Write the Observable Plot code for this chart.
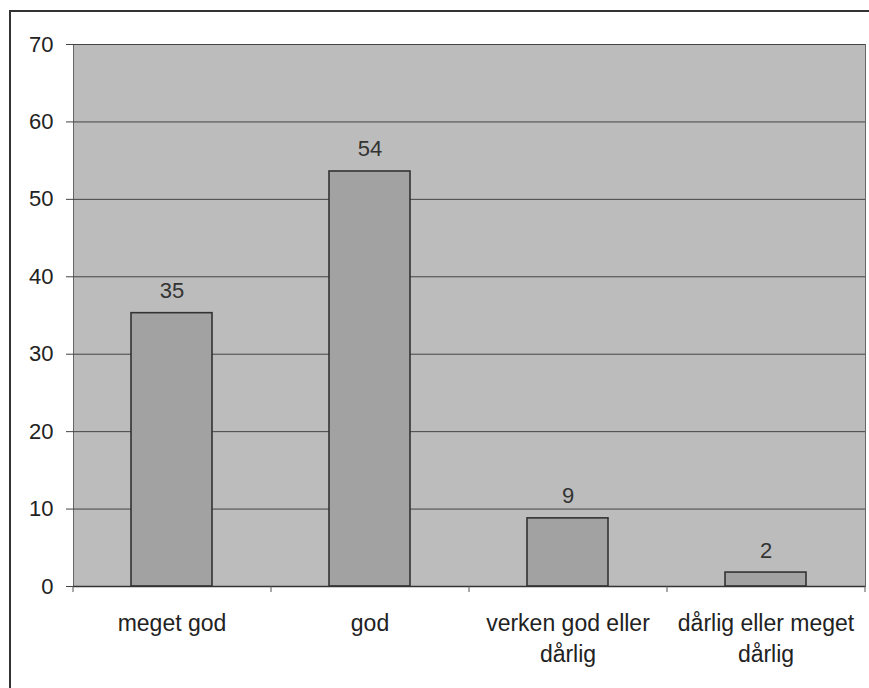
<!DOCTYPE html>
<html>
<head>
<meta charset="utf-8">
<script src="https://cdn.jsdelivr.net/npm/d3@7"></script>
<script src="https://cdn.jsdelivr.net/npm/@observablehq/plot@0.6"></script>
<style>
  html, body { margin: 0; padding: 0; background: #fff; }
  #wrap { position: relative; width: 869px; height: 688px; overflow: hidden; }
  #border { position: absolute; left: 9px; top: 10px; right: -5px; bottom: -5px;
            border-left: 2px solid #333; border-top: 2px solid #333; pointer-events: none; }
  svg { font-family: "Liberation Sans", Arial, sans-serif; }
</style>
</head>
<body>
<div id="wrap"><div id="border"></div></div>
<script>
const categories = ["meget god", "god", "verken god eller dårlig", "dårlig eller meget dårlig"];
const tickLabels = ["meget god", "god", "verken god eller\ndårlig", "dårlig eller meget\ndårlig"];
const values = [35.3, 53.6, 8.8, 1.8];
const yTicks = [0, 10, 20, 30, 40, 50, 60, 70];

const data = categories.map((c, i) => ({cat: c, label: tickLabels[i], value: values[i]}));
const lastCat = [categories[categories.length - 1]];

const chart = Plot.plot({
  width: 869,
  height: 688,
  marginLeft: 73,
  marginRight: 4,
  marginTop: 44,
  marginBottom: 102,
  style: {fontFamily: "'Liberation Sans', Arial, sans-serif", background: "transparent", color: "#222"},
  x: {domain: categories, paddingInner: 0.59, paddingOuter: 0.295, align: 0.5, label: null},
  y: {domain: [0, 70], ticks: yTicks, label: null},
  marks: [
    Plot.frame({fill: "#bcbcbc", stroke: "#666", strokeWidth: 1}),
    Plot.gridY(yTicks, {stroke: "#444", strokeOpacity: 1, strokeWidth: 1}),
    Plot.barY(data, {x: "cat", y: "value", fill: "#a2a2a2", stroke: "#333", strokeWidth: 1.6}),
    Plot.text(data, {x: "cat", y: "value", text: d => d3.format(".0f")(d.value),
      lineAnchor: "bottom", dy: -15, fontSize: 22, fill: "#333"}),
    Plot.axisY({ticks: yTicks, tickSize: 7, tickPadding: 13, fontSize: 22, label: null, stroke: "#444"}),
    Plot.ruleY([0], {stroke: "#333", strokeWidth: 1.5}),
    Plot.axisX({ticks: categories, tickSize: 6, text: null, dx: -99, stroke: "#555", label: null}),
    Plot.axisX({ticks: lastCat, tickSize: 6, text: null, dx: 99, stroke: "#555", label: null}),
    Plot.text(data, {x: "cat", y: 0, text: "label", lineAnchor: "top", dy: 22,
      lineHeight: 1.35, fontSize: 23, fill: "#222"})
  ]
});
document.getElementById("wrap").prepend(chart);
</script>
</body>
</html>
